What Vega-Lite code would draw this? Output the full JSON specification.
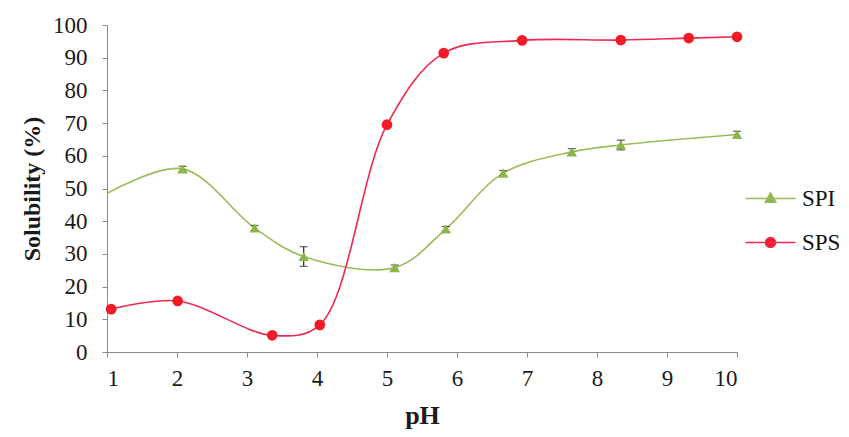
{
  "$schema": "https://vega.github.io/schema/vega-lite/v6.json",
  "width": 630,
  "height": 327,
  "autosize": {"type": "none"},
  "padding": {"left": 107, "top": 25, "right": 112, "bottom": 85},
  "background": "white",
  "config": {
    "font": "Liberation Serif",
    "view": {"stroke": null},
    "axis": {"grid": false, "domainColor": "#8a8a8a", "tickColor": "#8a8a8a", "tickSize": 5, "labelFont": "Liberation Serif", "labelFontSize": 23, "labelColor": "#1a1a1a", "titleFont": "Liberation Serif", "titleFontSize": 24, "titleFontWeight": "bold", "titleColor": "#1a1a1a"},
    "legend": {"orient": "none", "legendX": 650, "legendY": 160, "title": null, "padding": 0, "labelFont": "Liberation Serif", "labelFontSize": 23, "labelColor": "#111111", "labelOffset": 18, "rowPadding": 18, "symbolSize": 625}
  },
  "data": {
    "values": [
      {"series": "SPI", "pH": 1.0, "value": 48.5, "err": 0},
      {"series": "SPI", "pH": 2.08, "value": 56.0, "err": 0.8},
      {"series": "SPI", "pH": 3.11, "value": 37.9, "err": 0.8},
      {"series": "SPI", "pH": 3.81, "value": 29.2, "err": 3.0},
      {"series": "SPI", "pH": 5.11, "value": 25.8, "err": 0.8},
      {"series": "SPI", "pH": 5.84, "value": 37.6, "err": 0.8},
      {"series": "SPI", "pH": 6.66, "value": 54.7, "err": 0.8},
      {"series": "SPI", "pH": 7.64, "value": 61.2, "err": 1.0},
      {"series": "SPI", "pH": 8.34, "value": 63.3, "err": 1.5},
      {"series": "SPI", "pH": 10.0, "value": 66.5, "err": 1.0},
      {"series": "SPS", "pH": 1.06, "value": 13.1, "err": 0},
      {"series": "SPS", "pH": 2.01, "value": 15.6, "err": 0},
      {"series": "SPS", "pH": 3.36, "value": 5.1, "err": 0},
      {"series": "SPS", "pH": 4.04, "value": 8.3, "err": 0},
      {"series": "SPS", "pH": 5.0, "value": 69.5, "err": 0},
      {"series": "SPS", "pH": 5.81, "value": 91.4, "err": 0},
      {"series": "SPS", "pH": 6.93, "value": 95.3, "err": 0},
      {"series": "SPS", "pH": 8.34, "value": 95.4, "err": 0},
      {"series": "SPS", "pH": 9.31, "value": 96.0, "err": 0},
      {"series": "SPS", "pH": 10.0, "value": 96.4, "err": 0}
    ]
  },
  "encoding": {
    "x": {"field": "pH", "type": "quantitative", "scale": {"domain": [1, 10], "nice": false}, "axis": {"values": [1,2,3,4,5,6,7,8,9,10], "title": "pH", "labelPadding": 10, "titlePadding": 12, "titleFontSize": 26}},
    "y": {"field": "value", "type": "quantitative", "scale": {"domain": [0, 100], "nice": false}, "axis": {"values": [0,10,20,30,40,50,60,70,80,90,100], "title": "Solubility (%)", "labelPadding": 15, "titlePadding": 8}}
  },
  "layer": [
    {
      "mark": {"type": "line", "interpolate": "catmull-rom", "strokeWidth": 1.6},
      "encoding": {
        "color": {"field": "series", "type": "nominal", "scale": {"domain": ["SPI", "SPS"], "range": ["#9BBB59", "#EC2A50"]},
          "legend": {
            "encode": {
              "symbols": {
                "update": {
                  "shape": {"signal": "datum.value === 'SPI' ? 'M-2,0H2M0,-0.45L0.42,0.3L-0.42,0.3Z' : 'M-2,0H2M0.4,0A0.4,0.4 0 1,1 -0.4,0A0.4,0.4 0 1,1 0.4,0Z'"},
                  "stroke": {"signal": "datum.value === 'SPI' ? '#9BBB59' : '#EC2A50'"},
                  "fill": {"signal": "datum.value === 'SPI' ? '#8DB54A' : '#F21A26'"},
                  "strokeWidth": {"value": 1.6},
                  "opacity": {"value": 1}
                }
              }
            }
          }
        }
      }
    },
    {
      "transform": [{"filter": "datum.err > 0"}],
      "mark": {"type": "errorbar", "color": "#222222", "ticks": {"size": 8, "color": "#222222"}, "thickness": 1.2},
      "encoding": {
        "yError": {"field": "err"}
      }
    },
    {
      "transform": [{"filter": "datum.series === 'SPI' && datum.pH > 1"}],
      "mark": {"type": "point", "filled": true, "opacity": 1, "shape": "triangle-up", "color": "#8DB54A", "size": 110}
    },
    {
      "transform": [{"filter": "datum.series === 'SPS'"}],
      "mark": {"type": "point", "filled": true, "opacity": 1, "shape": "circle", "color": "#F21A26", "size": 115}
    }
  ]
}
